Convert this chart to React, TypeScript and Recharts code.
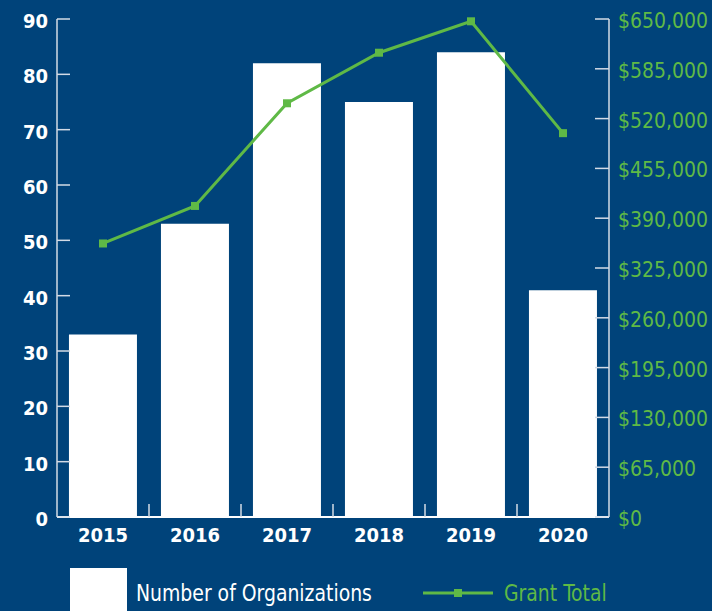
import { Bar, ComposedChart, Legend, Line, XAxis, YAxis } from 'recharts';

const years = ['2015', '2016', '2017', '2018', '2019', '2020'];
const organizations = [33, 53, 82, 75, 84, 41];
const grantTotals = [357000, 406000, 540000, 606000, 647000, 501000];
const countTicks = [0, 10, 20, 30, 40, 50, 60, 70, 80, 90];
const grantTicks = [0, 65000, 130000, 195000, 260000, 325000, 390000, 455000, 520000, 585000, 650000];

const data = years.map((year, i) => ({
  year,
  organizations: organizations[i],
  grant: grantTotals[i],
}));

const W = 712;
const H = 611;
const LEFT_W = 57;
const RIGHT_W = 103;
const BAND = (W - LEFT_W - RIGHT_W) / years.length;

const BG = '#00437a';
const GREEN = '#5fb946';
const AXIS = '#d3dbe6';
const FONT = '"DejaVu Sans Condensed", "DejaVu Sans", sans-serif';

const money = (v: number) => '$' + v.toLocaleString('en-US');

const LeftTick = ({ x, y, payload }: any) => (
  <g>
    <line x1={x + 10} x2={x + 23} y1={y} y2={y} stroke={AXIS} strokeWidth={1.5} />
    <text x={x + 1} y={y + 9} textAnchor="end" fill="#fff" fontSize={20} fontWeight="bold" fontFamily={FONT}>
      {payload.value}
    </text>
  </g>
);

const RightTick = ({ x, y, payload }: any) => (
  <g>
    <line x1={x - 23} x2={x - 9} y1={y} y2={y} stroke={AXIS} strokeWidth={1.5} />
    <text x={x} y={y + 9} textAnchor="start" fill={GREEN} fontSize={21} fontFamily={FONT}>
      {money(payload.value)}
    </text>
  </g>
);

const BottomTick = ({ x, y, payload, index }: any) => (
  <g>
    {index < years.length - 1 && (
      <line x1={x + BAND / 2} x2={x + BAND / 2} y1={y} y2={y - 13} stroke={AXIS} strokeWidth={1.5} />
    )}
    <text x={x} y={y + 25} textAnchor="middle" fill="#fff" fontSize={20} fontWeight="bold" fontFamily={FONT}>
      {payload.value}
    </text>
  </g>
);

const SquareDot = ({ cx, cy, index }: any) => (
  <rect key={index} x={cx - 4} y={cy - 4} width={8} height={8} fill={GREEN} />
);

const legendText = {
  position: 'absolute' as const,
  top: 22,
  lineHeight: '28px',
  fontSize: 23,
  fontFamily: FONT,
  whiteSpace: 'nowrap' as const,
  transform: 'scaleX(0.91)',
  transformOrigin: 'left center',
};

const LegendContent = () => (
  <div style={{ position: 'relative', height: 54, width: W }}>
    <div style={{ position: 'absolute', left: 70, top: 11, width: 57, height: 43, background: '#fff' }} />
    <span style={{ ...legendText, left: 136, color: '#fff' }}>Number of Organizations</span>
    <svg style={{ position: 'absolute', left: 423, top: 30 }} width={70} height={12}>
      <line x1={0} x2={70} y1={6} y2={6} stroke={GREEN} strokeWidth={3} />
      <rect x={31} y={2} width={8} height={8} fill={GREEN} />
    </svg>
    <span style={{ ...legendText, left: 504, color: GREEN }}>Grant Total</span>
  </div>
);

export default function App() {
  return (
    <div style={{ position: 'absolute', left: 0, top: 0, width: W, height: H, background: BG, overflow: 'hidden' }}>
      <ComposedChart width={W} height={H} data={data} margin={{ top: 19, right: 0, bottom: 0, left: 0 }} barCategoryGap="13%">
        <XAxis
          dataKey="year"
          height={40}
          tickLine={false}
          tickSize={0}
          tickMargin={0}
          axisLine={{ stroke: '#fff', strokeWidth: 2 }}
          tick={<BottomTick />}
          interval={0}
        />
        <YAxis
          yAxisId="left"
          orientation="left"
          width={LEFT_W}
          domain={[0, 90]}
          ticks={countTicks}
          tickLine={false}
          tickSize={0}
          tickMargin={10}
          axisLine={{ stroke: AXIS, strokeWidth: 1.5 }}
          tick={<LeftTick />}
          interval={0}
        />
        <YAxis
          yAxisId="right"
          orientation="right"
          width={RIGHT_W}
          domain={[0, 650000]}
          ticks={grantTicks}
          tickLine={false}
          tickSize={0}
          tickMargin={9}
          axisLine={{ stroke: AXIS, strokeWidth: 1.5 }}
          tick={<RightTick />}
          interval={0}
        />
        <Legend verticalAlign="bottom" height={54} content={<LegendContent />} />
        <Bar yAxisId="left" dataKey="organizations" fill="#fff" isAnimationActive={false} />
        <Line
          yAxisId="right"
          dataKey="grant"
          stroke={GREEN}
          strokeWidth={3}
          dot={<SquareDot />}
          activeDot={false}
          isAnimationActive={false}
        />
      </ComposedChart>
    </div>
  );
}
